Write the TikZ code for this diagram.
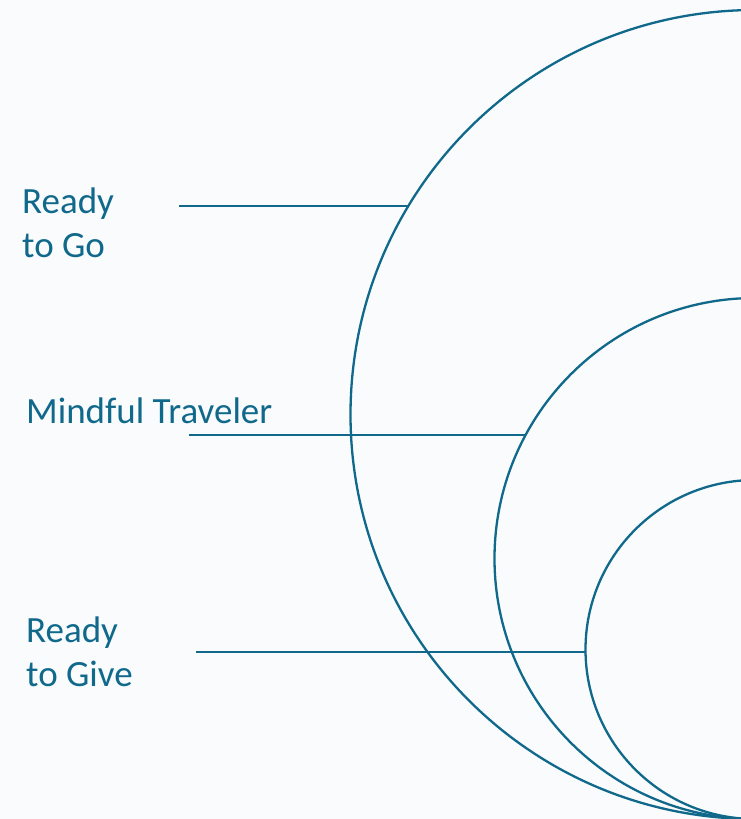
\documentclass[tikz,border=0pt]{standalone}
\usepackage{fontspec}
\setmainfont{Carlito}
\usetikzlibrary{calc}
\definecolor{ringblue}{HTML}{10698B}
\definecolor{paper}{HTML}{F9FBFD}

\begin{document}
\begin{tikzpicture}[
  x=1pt, y=-1pt,
  tag/.style={
    anchor=base west, inner sep=0pt, align=left,
    text=ringblue, font=\fontsize{37}{44}\selectfont
  },
  ring/.style={draw=ringblue, line width=2.3pt},
  leader/.style={draw=ringblue, line width=2.1pt}
]

% Page and clipping
\fill[paper] (0,0) rectangle (741,819);
\clip (0,0) rectangle (741,819);

% Three rings touching at the bottom
\coordinate (outer) at (755,414.5);
\coordinate (middle) at (755,558.5);
\coordinate (inner) at (755,649.5);
\draw[ring] (outer) circle[radius=404.5pt];
\draw[ring] (middle) circle[radius=260.5pt];
\draw[ring] (inner) circle[radius=169.5pt];

% Labels on the left (base anchor sits on the last line)
\node[tag] (go) at (22,257) {Ready\\to Go};
\node[tag] (mindful) at (26,423) {Mindful Traveler};
\node[tag] (give) at (26,686) {Ready\\to Give};

% Leader lines from the labels to the rings
\coordinate (go-start) at (179,206);
\coordinate (mindful-start) at (189,435);
\coordinate (give-start) at (196,652);
\coordinate (go-end) at ($(outer)+(148.97:404.5pt)$);
\coordinate (mindful-end) at ($(middle)+(151.70:260.5pt)$);
\coordinate (give-end) at ($(inner)+(180.85:169.5pt)$);
\draw[leader] (go-start) -- (go-start -| go-end);
\draw[leader] (mindful-start) -- (mindful-start -| mindful-end);
\draw[leader] (give-start) -- (give-start -| give-end);

\end{tikzpicture}
\end{document}
